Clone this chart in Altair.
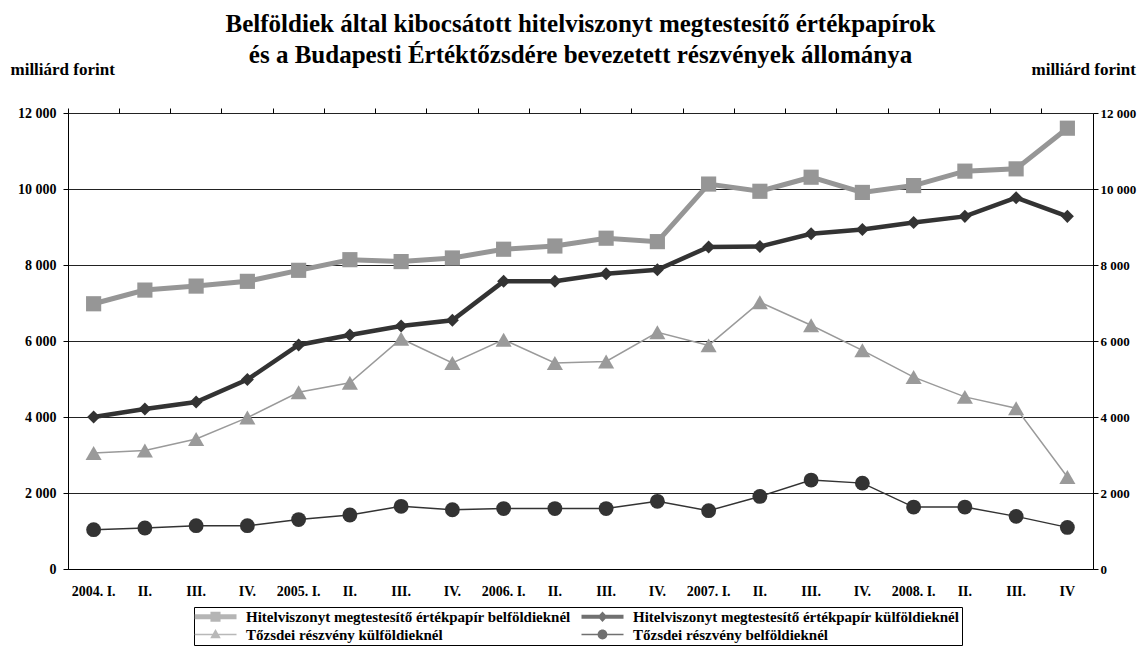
import altair as alt
import pandas as pd

FONT = "Liberation Serif"

quarters = ["2004. I.", "2004. II.", "2004. III.", "2004. IV.",
            "2005. I.", "2005. II.", "2005. III.", "2005. IV.",
            "2006. I.", "2006. II.", "2006. III.", "2006. IV.",
            "2007. I.", "2007. II.", "2007. III.", "2007. IV.",
            "2008. I.", "2008. II.", "2008. III.", "2008. IV"]

series_names = ["Hitelviszonyt megtestesítő értékpapír belföldieknél",
                "Hitelviszonyt megtestesítő értékpapír külföldieknél",
                "Tőzsdei részvény külföldieknél",
                "Tőzsdei részvény belföldieknél"]

hitel_belfold = [6980, 7340, 7445, 7570, 7860, 8140, 8090, 8185, 8415, 8500,
                 8705, 8615, 10130, 9940, 10310, 9910, 10090, 10470, 10530, 11600]
hitel_kulfold = [4000, 4210, 4395, 4985, 5895, 6160, 6395, 6545, 7570, 7570,
                 7770, 7875, 8475, 8485, 8820, 8935, 9120, 9280, 9770, 9280]
tozsde_kulfold = [3050, 3120, 3420, 3985, 4650, 4900, 6060, 5420, 6035, 5420,
                  5460, 6230, 5885, 7020, 6415, 5755, 5050, 4530, 4230, 2420]
tozsde_belfold = [1035, 1080, 1140, 1140, 1300, 1420, 1650, 1560, 1590, 1590,
                  1590, 1780, 1535, 1910, 2340, 2260, 1630, 1630, 1385, 1095]

y_ticks = [0, 2000, 4000, 6000, 8000, 10000, 12000]

colors = ["#969696", "#333333", "#9a9a9a", "#333333"]
line_widths = [5, 4.5, 1.5, 1.5]
shapes = ["square", "diamond", "triangle-up", "circle"]
sizes = [230, 170, 260, 220]
# legend symbols: line stub with marker (unit = 7 px)
legend_paths = [
    "M-3,-0.36H3V0.36H-3Z M-0.72,-0.72H0.72V0.72H-0.72Z",
    "M-3,-0.3H3V0.3H-3Z M0,-0.75L0.7,0L0,0.75L-0.7,0Z",
    "M-3,-0.11H3V0.11H-3Z M0,-0.8L0.75,0.55H-0.75Z",
    "M-3,-0.11H3V0.11H-3Z M0.7,0A0.7,0.7 0 1,1 -0.7,0A0.7,0.7 0 1,1 0.7,0Z",
]

rows = []
for name, vals in zip(series_names, [hitel_belfold, hitel_kulfold, tozsde_kulfold, tozsde_belfold]):
    for q, v in zip(quarters, vals):
        rows.append({"q": q, "series": name, "value": v})
df = pd.DataFrame(rows)

xscale = alt.Scale(type="band", domain=quarters, paddingInner=0, paddingOuter=0)
yscale = alt.Scale(domain=[0, 12000], nice=False)
ylabel_expr = "replace(format(datum.value, ','), ',', ' ')"

axis_common = dict(labelFont=FONT, labelFontWeight="bold", labelColor="black",
                   titleFont=FONT, titleFontWeight="bold", titleColor="black")

x_label_axis = alt.Axis(title=None, labelExpr="slice(datum.label, 6) == 'I.' ? datum.label : slice(datum.label, 6)",
                        ticks=False, domain=True, domainColor="black", domainWidth=1,
                        labelFontSize=14, labelPadding=15, labelAngle=0, grid=False,
                        labelFont=FONT, labelFontWeight="bold", labelColor="black")
x_tick_axis = alt.Axis(title=None, labels=False, ticks=True, bandPosition=0, domain=False,
                       grid=False, tickSize=5, tickColor="black", tickWidth=1)

y_left_axis = alt.Axis(values=y_ticks, labelExpr=ylabel_expr, title="milliárd forint",
                       titleAngle=0, titleAlign="left", titleBaseline="alphabetic",
                       titleX=-58, titleY=-39, titleFontSize=17,
                       labelFontSize=14, labelPadding=7, tickSize=5, tickColor="black",
                       domainColor="black", grid=True, gridColor="#222222", gridWidth=1,
                       **axis_common)
y_right_axis = alt.Axis(values=y_ticks, labelExpr=ylabel_expr, title="milliárd forint", orient="right",
                        titleAngle=0, titleAlign="left", titleBaseline="alphabetic",
                        titleX=-62, titleY=-39, titleFontSize=17,
                        labelFontSize=13, labelPadding=2, tickSize=5, tickColor="black",
                        domainColor="black", grid=False, **axis_common)

layers = []
for i, name in enumerate(series_names):
    base = alt.Chart(df).transform_filter(alt.datum.series == name)
    if i == 0:
        lx = alt.X("q:O", scale=xscale, axis=x_label_axis)
        ly = alt.Y("value:Q", scale=yscale, axis=y_left_axis)
        px = alt.X("q:O", scale=xscale, axis=x_tick_axis)
        py = alt.Y("value:Q", scale=yscale, axis=y_right_axis)
    else:
        lx = px = alt.X("q:O", scale=xscale, axis=None)
        ly = py = alt.Y("value:Q", scale=yscale, axis=None)
    layers.append(base.mark_line(color=colors[i], strokeWidth=line_widths[i]).encode(x=lx, y=ly))
    layers.append(base.mark_point(filled=True, opacity=1, color=colors[i], shape=shapes[i],
                                  size=sizes[i]).encode(x=px, y=py))

color_scale = alt.Scale(domain=series_names, range=colors)
leg = alt.Legend(title=None, orient="none", legendX=126, legendY=494, columns=2,
                 direction="horizontal",
                 columnPadding=10, rowPadding=2, symbolSize=196, symbolStrokeWidth=0,
                 symbolOffset=12, labelOffset=23,
                 labelFont=FONT, labelFontSize=15, labelFontWeight="bold", labelColor="black",
                 labelLimit=600, strokeColor="black", fillColor="white", padding=2)

legend_layer = alt.Chart(df).transform_filter("datum.value < 0").mark_point(filled=True).encode(
    x=alt.X("q:O", scale=xscale, axis=None),
    y=alt.Y("value:Q", scale=yscale, axis=None),
    color=alt.Color("series:N", scale=color_scale, legend=leg),
    shape=alt.Shape("series:N", scale=alt.Scale(domain=series_names, range=legend_paths), legend=leg),
)
layers.append(legend_layer)

chart = alt.layer(*layers).resolve_axis(
    x="independent", y="independent"
).properties(
    width=1025, height=456,
    autosize=alt.AutoSizeParams(type="none"),
    padding={"left": 60, "top": 105, "right": 44, "bottom": 79},
    title=alt.Title(["Belföldiek által kibocsátott hitelviszonyt megtestesítő értékpapírok",
                     "és a Budapesti Értéktőzsdére bevezetett részvények állománya"],
                    font=FONT, fontSize=25, fontWeight="bold", color="black",
                    anchor="middle", frame="group", lineHeight=31, offset=0, dy=8),
).configure_view(stroke=None).configure(background="white")

chart.save("out.html", embed_options={"renderer": "svg", "actions": False})
